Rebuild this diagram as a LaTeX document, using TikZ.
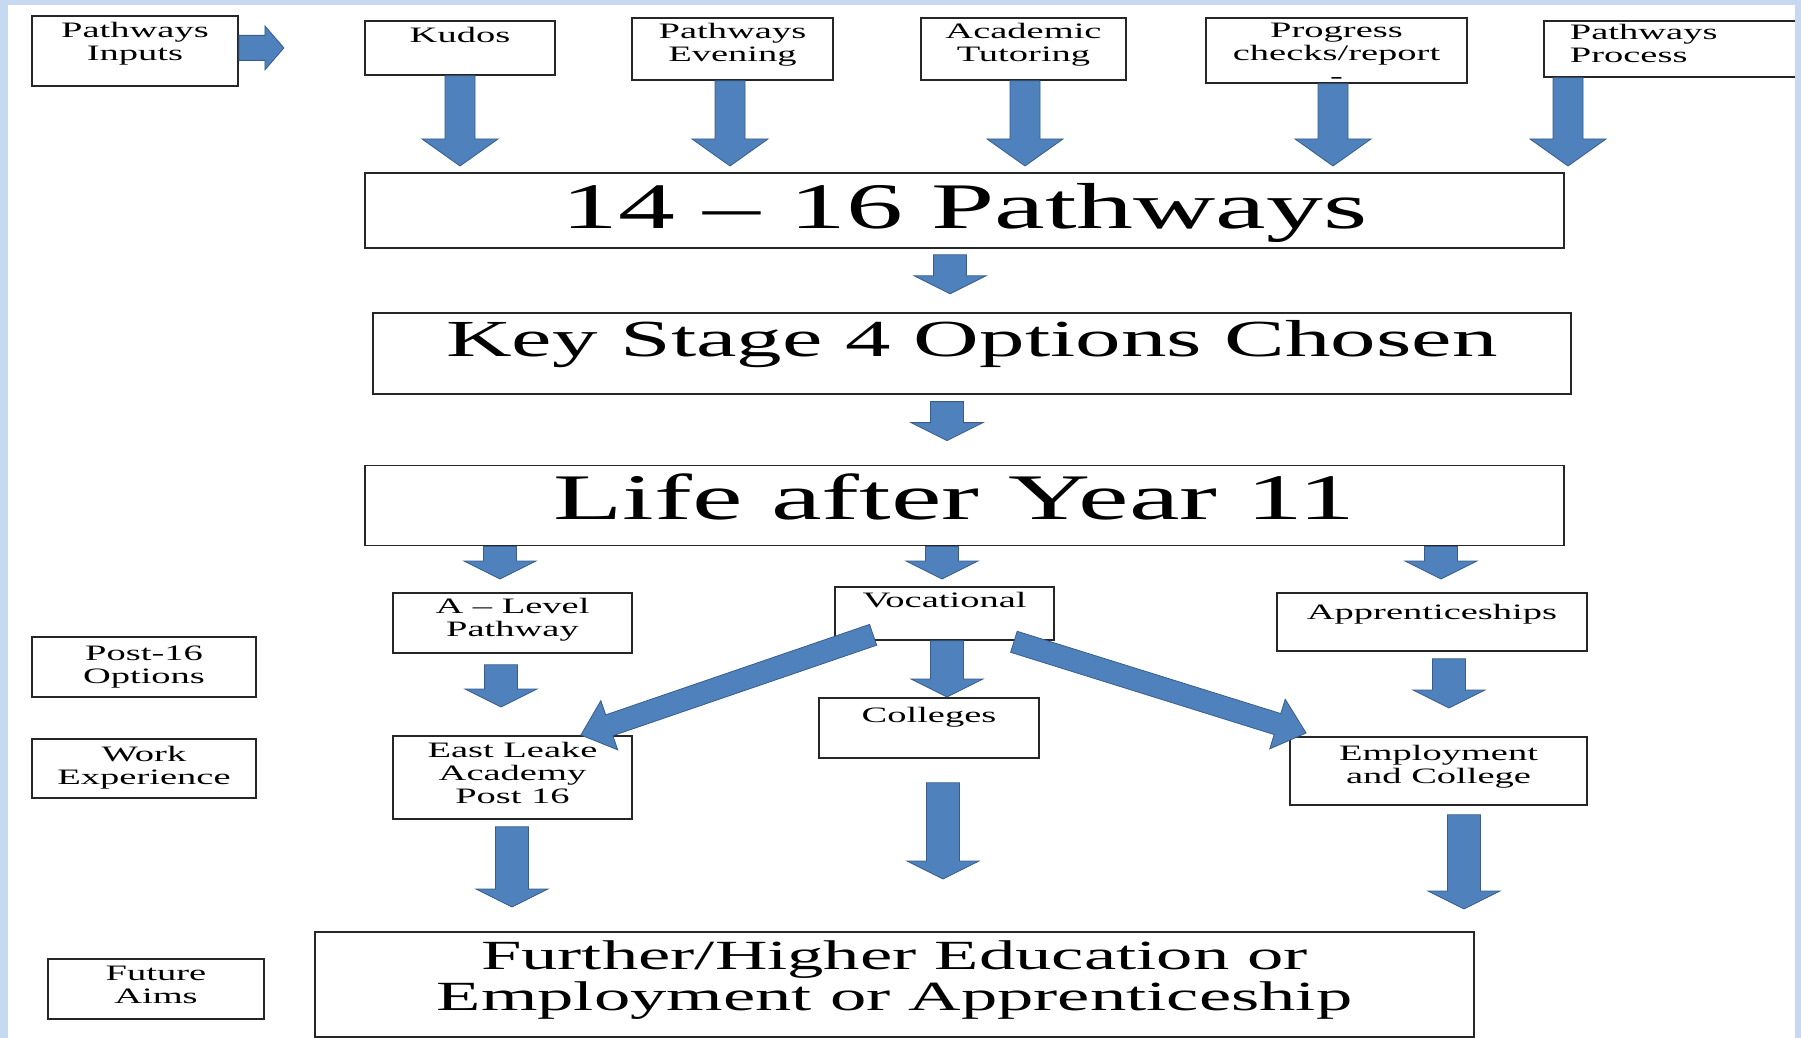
\documentclass[tikz,border=0pt]{standalone}
\usepackage{fontspec}
\setmainfont{Liberation Serif}
\usepackage{graphicx}
\usetikzlibrary{positioning,calc}

\definecolor{arrowblue}{RGB}{79,129,189}
\definecolor{arrowedge}{RGB}{56,93,138}
\definecolor{pagerim}{RGB}{198,217,241}

\newcommand{\wide}[2][c]{\scalebox{1.75}[1]{\begin{tabular}[t]{@{}#1@{}}#2\end{tabular}}}
\newcommand{\boxfont}{\fontsize{22}{23}\selectfont}

\tikzset{
    box/.style={draw=black!85, line width=1.8pt, fill=white, inner ysep=0pt, anchor=north, font=\boxfont},
    fat/.style n args={3}{draw=arrowedge, fill=arrowblue, line width=0.8pt,
        to path={($(\tikztostart)!#1!90:(\tikztotarget)$)
            -- ($(\tikztotarget)!#3!(\tikztostart)!#1!90:(\tikztotarget)$)
            -- ($(\tikztotarget)!#3!(\tikztostart)!#2!90:(\tikztotarget)$)
            -- (\tikztotarget)
            -- ($(\tikztotarget)!#3!(\tikztostart)!#2!-90:(\tikztotarget)$)
            -- ($(\tikztotarget)!#3!(\tikztostart)!#1!-90:(\tikztotarget)$)
            -- ($(\tikztostart)!#1!-90:(\tikztotarget)$) -- cycle}},
    topfat/.style={fat={15pt}{38pt}{27pt}},
    midfat/.style={fat={16.5pt}{36pt}{18pt}},
    slantfat/.style={fat={11pt}{26pt}{30pt}},
}

\begin{document}
\begin{tikzpicture}[x=1pt, y=-1pt]
    \useasboundingbox (0,0) rectangle (1801,1038);
    \fill[white] (0,0) rectangle (1801,1038);

    % inputs along the top
    \node[box, minimum width=206pt, text height=22pt, text depth=48pt] (inputs) at (135,15) {\wide{Pathways\\Inputs}};
    \node[box, minimum width=190pt, text height=22pt, text depth=32pt] (kudos) at (460,20) {\wide{Kudos}};
    \node[box, minimum width=201pt, text height=21pt, text depth=41pt] (evening) at (732.5,17) {\wide{Pathways\\Evening}};
    \node[box, minimum width=205pt, text height=21pt, text depth=41pt] (tutoring) at (1023.5,17) {\wide{Academic\\Tutoring}};
    \node[box, minimum width=261pt, text height=20pt, text depth=45pt] (progress) at (1336.5,17) {\wide{Progress\\checks/report\\-}};
    \node[box, anchor=north west, minimum width=262pt, text height=19pt, text depth=37pt] (process) at (1543,20) {\makebox[210pt][l]{\wide[l]{Pathways\\Process}}};

    % main column
    \node[box, font=\fontsize{65}{70}\selectfont, minimum width=1199pt, text height=56pt, text depth=19pt] (p1416) at (964.5,172) {\wide{14 -- 16 Pathways}};
    \node[box, font=\fontsize{52}{56}\selectfont, minimum width=1198pt, text height=44pt, text depth=37pt, below=63pt of p1416, xshift=7.5pt] (ks4) {\wide{Key Stage 4 Options Chosen}};
    \node[box, font=\fontsize{65}{70}\selectfont, minimum width=1199pt, text height=54pt, text depth=26pt, below=70pt of ks4, xshift=-7.5pt] (life) {\wide{Life after Year 11}\kern20pt};

    % routes after year 11
    \node[box, minimum width=239pt, text height=21pt, text depth=39pt] (alevel) at (512.5,592) {\wide{A -- Level\\Pathway}};
    \node[box, minimum width=219pt, text height=21pt, text depth=32pt] (vocational) at (944.5,586) {\wide{Vocational}};
    \node[box, minimum width=310pt, text height=26.5pt, text depth=31.5pt] (apprent) at (1432,592) {\wide{Apprenticeships}};
    \node[box, minimum width=239pt, text height=21.5pt, text depth=61.5pt] (eastleake) at (512.5,735) {\wide{East Leake\\Academy\\Post 16}};
    \node[box, minimum width=220pt, text height=24.5pt, text depth=35.5pt] (colleges) at (929,697) {\wide{Colleges}};
    \node[box, minimum width=297pt, text height=23.5pt, text depth=44.5pt] (employ) at (1438.5,736) {\wide{Employment\\and College}};

    % side labels
    \node[box, minimum width=224pt, text height=24pt, text depth=36pt] (post16) at (144,636) {\wide{Post-16\\Options}};
    \node[box, minimum width=224pt, text height=22.5pt, text depth=36.5pt, below=40pt of post16] (work) {\wide{Work\\Experience}};
    \node[box, minimum width=216pt, text height=21.5pt, text depth=38.5pt] (future) at (156,958) {\wide{Future\\Aims}};

    \node[box, font=\fontsize{41.5}{38.5}\selectfont, minimum width=1159pt, text height=38pt, text depth=67pt] (further) at (894.5,931) {\wide{Further/Higher Education or\\Employment or Apprenticeship}};

    % arrows
    \draw[fat={12.5pt}{22pt}{19pt}] ([yshift=3pt]inputs.east) to ([yshift=3pt, xshift=45pt]inputs.east);
    \foreach \n/\x in {kudos/460, evening/730, tutoring/1025, progress/1333, process/1568}
        \draw[topfat] (\x,0 |- \n.south) to ($(\x,0 |- p1416.north)+(0,-6)$);

    \draw[midfat] ($(950,0 |- p1416.south)+(0,6)$) to ($(950,0 |- ks4.north)+(0,-18)$);
    \draw[midfat] ($(947,0 |- ks4.south)+(0,7)$) to ($(947,0 |- life.north)+(0,-24)$);
    \draw[midfat] (500,0 |- life.south) to ($(500,0 |- alevel.north)+(0,-13)$);
    \draw[midfat] (942,0 |- life.south) to ($(942,0 |- vocational.north)+(0,-7)$);
    \draw[midfat] (1441,0 |- life.south) to ($(1441,0 |- apprent.north)+(0,-13)$);

    \draw[midfat] ($(501,0 |- alevel.south)+(0,11)$) to ($(501,0 |- eastleake.north)+(0,-28)$);
    \draw[midfat] (947,0 |- vocational.south) to (947,0 |- colleges.north);
    \draw[midfat] ($(1449,0 |- apprent.south)+(0,7)$) to ($(1449,0 |- employ.north)+(0,-28)$);
    \draw[slantfat] ($(vocational.south west)+(39,-6)$) to ($(eastleake.north east)+(-52,0)$);
    \draw[slantfat] ($(vocational.south east)+(-41,1)$) to ($(employ.north west)+(17,-3)$);

    \draw[midfat] ($(512,0 |- eastleake.south)+(0,7)$) to ($(512,0 |- further.north)+(0,-24)$);
    \draw[midfat] ($(943,0 |- colleges.south)+(0,24)$) to ($(943,0 |- further.north)+(0,-52)$);
    \draw[midfat] ($(1464,0 |- employ.south)+(0,9)$) to ($(1464,0 |- further.north)+(0,-22)$);

    % page rim
    \fill[pagerim] (0,0) rectangle (8,1038);
    \fill[pagerim] (0,0) rectangle (1801,5);
    \fill[pagerim] (1795,0) rectangle (1801,1038);
\end{tikzpicture}
\end{document}
